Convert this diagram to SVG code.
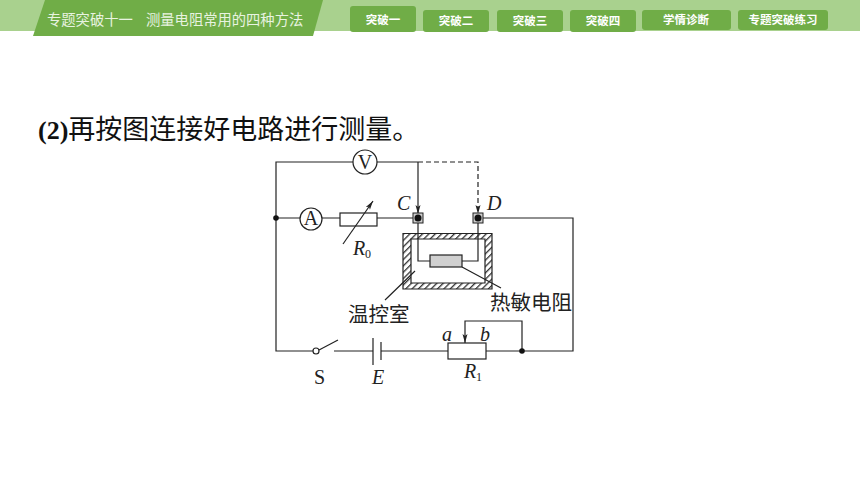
<svg xmlns="http://www.w3.org/2000/svg" width="860" height="484" viewBox="0 0 860 484">
<style>
.w{fill:none;stroke:#222;stroke-width:1.2}
.b{fill:#fff;stroke:#222;stroke-width:1.2}
.d{fill:#111}
.tab{fill:#70ad47}
.tt{font-family:"Noto Sans CJK SC",sans-serif;font-size:11.5px;font-weight:700;fill:#fff;text-anchor:middle}
.cn{font-family:"Noto Sans CJK SC",sans-serif;font-size:20.5px;font-weight:400;fill:#222}
.i{font-family:"Liberation Serif",serif;font-style:italic;font-size:20px;fill:#222}
.r{font-family:"Liberation Serif",serif;font-size:20px;fill:#222}
.sub{font-family:"Liberation Serif",serif;font-size:12px;fill:#222}
</style>
<defs>
<marker id="ah" markerWidth="10" markerHeight="6" refX="9" refY="3" orient="auto" markerUnits="userSpaceOnUse" viewBox="0 0 10 6"><path d="M0 .5L9 3L0 5.500L2 3Z" fill="#222"/></marker>
<pattern id="hatch" width="4.500" height="4.500" patternUnits="userSpaceOnUse" patternTransform="rotate(45)"><rect width="4.500" height="4.500" fill="#fff"/><rect width="1.300" height="4.500" fill="#333"/></pattern>
</defs>
<g id="header">
<rect x="0" y="0" width="860" height="31" fill="#a9d18e"/>
<path d="M45 0H323L313 36H33Z" fill="#70ad47"/>
<text x="47" y="25" font-family="Noto Sans CJK SC,sans-serif" font-size="14.3px" fill="#e8f3e0">专题突破十一</text>
<text x="146" y="25" font-family="Noto Sans CJK SC,sans-serif" font-size="14.3px" fill="#e8f3e0">测量电阻常用的四种方法</text>
</g>
<g id="tab1"><rect class="tab" x="350" y="6" width="66" height="26" rx="3"/><text class="tt" x="383" y="24">突破一</text></g>
<g id="tab2"><rect class="tab" x="423" y="10" width="66" height="22" rx="3"/><text class="tt" x="456" y="25">突破二</text></g>
<g id="tab3"><rect class="tab" x="497" y="10" width="66" height="22" rx="3"/><text class="tt" x="530" y="25">突破三</text></g>
<g id="tab4"><rect class="tab" x="570" y="10" width="66" height="22" rx="3"/><text class="tt" x="603" y="25">突破四</text></g>
<g id="tab5"><rect class="tab" x="642" y="10" width="89" height="20" rx="3"/><text class="tt" x="686" y="24">学情诊断</text></g>
<g id="tab6"><rect class="tab" x="738" y="10" width="90" height="20" rx="3"/><text class="tt" x="783" y="24">专题突破练习</text></g>
<text id="heading" x="38" y="139" font-family="Liberation Serif,serif" font-size="26px" font-weight="700" fill="#111">(2)<tspan font-family="Noto Sans CJK SC,sans-serif" font-size="27px" font-weight="400">再按图连接好电路进行测量。</tspan></text>
<g id="connectors">
<path class="w" d="M418 162H276V351H316M334 351H373M381 351H448M486 351H573V218H478M276 218H300M322 218H340M377 218H418"/>
<path class="w" d="M418 162V214" marker-end="url(#ah)"/>
<path class="w" d="M418 162H478V214" stroke-dasharray="5 3" marker-end="url(#ah)"/>
<path class="w" d="M522 351V321H465V343" marker-end="url(#ah)"/>
<path class="w" d="M319 350L338 340"/>
<path class="w" d="M343 244L373 201" marker-end="url(#ah)"/>
</g>
<g id="voltmeter"><circle class="b" cx="365" cy="162" r="12"/><text class="r" x="365" y="169" text-anchor="middle">V</text></g>
<g id="ammeter"><circle class="b" cx="311" cy="219" r="11"/><text class="r" x="311" y="225" text-anchor="middle" font-size="18">A</text></g>
<g id="R0"><rect class="w" x="340" y="213" width="37" height="13"/><text class="i" x="353" y="255">R</text><text class="sub" x="365" y="258">0</text></g>
<g id="junctions"><circle class="d" cx="276" cy="218" r="2.800"/><circle class="d" cx="522" cy="351" r="2.800"/></g>
<g id="chamber">
<path fill="url(#hatch)" fill-rule="evenodd" stroke="#222" stroke-width="1.200" d="M403 233.500H492V289H403ZM411 239H485V283H411Z"/>
</g>
<g id="C"><rect x="413" y="213" width="10" height="10" fill="#ccc" stroke="#222"/><circle class="d" cx="418" cy="218" r="3.500"/><text class="i" x="397" y="210">C</text></g>
<g id="D"><rect x="473" y="213" width="10" height="10" fill="#ccc" stroke="#222"/><circle class="d" cx="478" cy="218" r="3.500"/><text class="i" x="487" y="210">D</text></g>
<path class="w" d="M418 223V261H430M478 223V261H462"/>
<path class="w" d="M462 267L501 288M415 271L385 300"/>
<g id="thermistor"><rect x="430" y="255" width="32" height="12" fill="#d0d0d0" stroke="#222" stroke-width="1.200"/><text class="cn" x="490" y="310">热敏电阻</text></g>
<text id="chamber-label" class="cn" x="348" y="322">温控室</text>
<g id="switch"><circle class="b" cx="316" cy="351" r="3"/><text class="r" x="314" y="384">S</text></g>
<g id="battery"><path class="w" d="M373 338V365M381 342V360"/><text class="i" x="372" y="384">E</text></g>
<g id="R1"><rect class="w" x="448" y="343" width="38" height="16"/><text class="i" x="464" y="378">R</text><text class="sub" x="476" y="381">1</text><text class="i" x="442" y="341">a</text><text class="i" x="480" y="341">b</text></g>
</svg>
